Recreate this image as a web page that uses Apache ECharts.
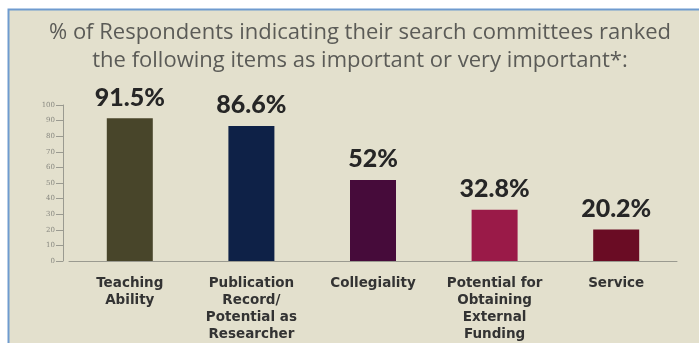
<!DOCTYPE html>
<html><head><meta charset="utf-8">
<script src="https://cdn.jsdelivr.net/npm/echarts@6/dist/echarts.min.js"></script>
<style>html,body{margin:0;padding:0;background:#fff}#c{width:699px;height:343px}</style>
</head><body><div id="c"></div>
<script>
const categories = ['Teaching\nAbility', 'Publication\nRecord/\nPotential as\nResearcher', 'Collegiality', 'Potential for\nObtaining\nExternal\nFunding', 'Service'];
const values = [91.5, 86.6, 52, 32.8, 20.2];
const valueLabels = ['91.5%', '86.6%', '52%', '32.8%', '20.2%'];
const barColors = ['#48452a', '#0e2147', '#460b3a', '#9a1a48', '#6a0c24'];
const yTicks = [0, 10, 20, 30, 40, 50, 60, 70, 80, 90, 100];

const chart = echarts.init(document.getElementById('c'));
chart.setOption({
  animation: false,
  backgroundColor: '#ffffff',
  graphic: [{
    type: 'rect', z: -10, silent: true,
    shape: { x: 8.5, y: 9.5, width: 700, height: 340 },
    style: { fill: '#e3e0cd', stroke: '#6f9bcf', lineWidth: 2 }
  }],
  title: {
    text: '% of Respondents indicating their search committees ranked\nthe following items as important or very important*:',
    left: 355, top: 14, textAlign: 'center',
    textStyle: { fontFamily: 'Open Sans', fontSize: 22, fontWeight: 'normal', color: '#5b5b57', lineHeight: 28 }
  },
  grid: { left: 69, right: 22, top: 105, bottom: 81 },
  xAxis: {
    type: 'category', data: categories,
    axisLine: { lineStyle: { color: '#9a9a90', width: 1 } },
    axisTick: { show: false },
    axisLabel: { interval: 0, margin: 14, fontFamily: 'DejaVu Sans', fontWeight: 'bold', fontSize: 13.5, color: '#333333', lineHeight: 17 }
  },
  yAxis: {
    type: 'value', min: 0, max: 100, interval: 10, offset: 6,
    axisLine: { show: true, lineStyle: { color: '#9a9a90' } },
    axisTick: { show: true, length: 7, lineStyle: { color: '#9a9a90' } },
    splitLine: { show: false },
    axisLabel: { fontFamily: 'DejaVu Serif', fontSize: 7, color: '#888880', margin: 8,
      formatter: v => yTicks.includes(v) ? String(v) : '' }
  },
  series: [{
    type: 'bar', barWidth: 46,
    data: values.map((v, i) => ({ value: v, itemStyle: { color: barColors[i] } })),
    label: {
      show: true, position: 'top', distance: 8,
      formatter: p => valueLabels[p.dataIndex],
      fontFamily: 'Lato', fontWeight: 900, fontSize: 25, color: '#262626'
    }
  }]
});
</script></body></html>
